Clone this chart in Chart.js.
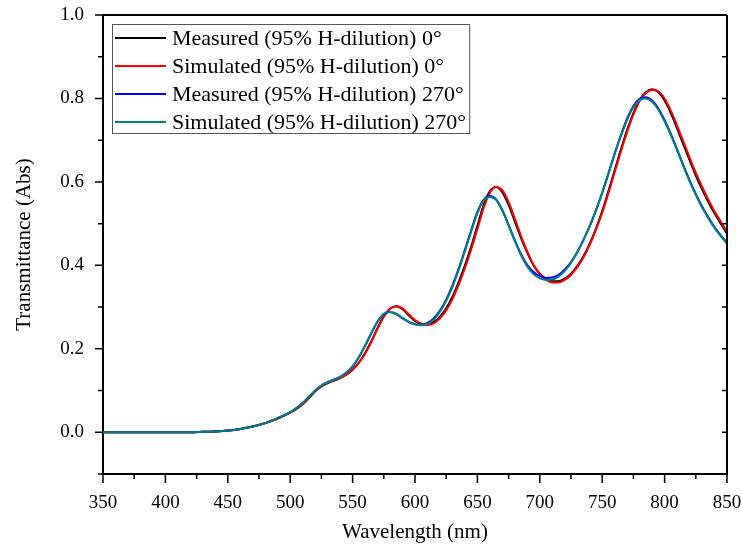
<!DOCTYPE html>
<html>
<head>
<meta charset="utf-8">
<script src="https://cdn.jsdelivr.net/npm/chart.js@4/dist/chart.umd.min.js"></script>
<style>
  html, body { margin: 0; padding: 0; background: #fff; }
  #wrap { width: 742px; height: 549px; }
</style>
</head>
<body>
<div id="wrap"><canvas id="chart" width="742" height="549"></canvas></div>
<script>
// wavelengths (nm)
const wavelengths = [350, 360, 370, 380, 390, 400, 410, 420, 430, 440, 450, 460, 470, 480, 490,
  500, 505, 510, 515, 520, 525, 530, 535, 540, 545, 550, 555, 560, 565, 570, 575, 580, 585, 590, 595,
  600, 605, 610, 615, 620, 625, 630, 635, 640, 645, 650, 655, 660, 665, 670, 675, 680, 685, 690, 695,
  700, 705, 710, 715, 720, 725, 730, 735, 740, 745, 750, 755, 760, 765, 770, 775, 780, 785, 790, 795,
  800, 805, 810, 815, 820, 825, 830, 835, 840, 845, 850];

const measured0 = [0, 0, 0, 0, 0, 0, 0, 0, 0.001, 0.002, 0.004, 0.008, 0.014, 0.022, 0.033,
  0.047, 0.056, 0.067, 0.082, 0.098, 0.110, 0.118, 0.124, 0.130, 0.138, 0.150, 0.167, 0.190, 0.218, 0.250, 0.278, 0.296, 0.302, 0.295, 0.280,
  0.267, 0.259, 0.258, 0.264, 0.277, 0.297, 0.325, 0.360, 0.400, 0.445, 0.495, 0.545, 0.578, 0.588, 0.575, 0.545, 0.505, 0.465, 0.430, 0.400,
  0.380, 0.368, 0.362, 0.362, 0.368, 0.380, 0.398, 0.422, 0.452, 0.488, 0.530, 0.578, 0.628, 0.678, 0.725, 0.765, 0.797, 0.815, 0.822, 0.815,
  0.795, 0.765, 0.728, 0.690, 0.652, 0.615, 0.582, 0.552, 0.525, 0.500, 0.476];

const simulated0 = [0, 0, 0, 0, 0, 0, 0, 0, 0.001, 0.002, 0.004, 0.008, 0.014, 0.022, 0.033,
  0.047, 0.056, 0.067, 0.082, 0.098, 0.110, 0.118, 0.124, 0.130, 0.138, 0.150, 0.166, 0.188, 0.216, 0.248, 0.277, 0.296, 0.302, 0.297, 0.283,
  0.269, 0.260, 0.257, 0.261, 0.273, 0.292, 0.319, 0.353, 0.393, 0.438, 0.487, 0.537, 0.574, 0.588, 0.580, 0.552, 0.512, 0.470, 0.433, 0.401,
  0.379, 0.365, 0.359, 0.359, 0.365, 0.377, 0.395, 0.419, 0.449, 0.485, 0.526, 0.573, 0.623, 0.673, 0.720, 0.761, 0.794, 0.813, 0.820, 0.817,
  0.800, 0.771, 0.735, 0.697, 0.659, 0.622, 0.589, 0.558, 0.530, 0.505, 0.481];

const measured270 = [0, 0, 0, 0, 0, 0, 0, 0, 0.001, 0.002, 0.004, 0.008, 0.014, 0.022, 0.034,
  0.048, 0.058, 0.070, 0.085, 0.100, 0.112, 0.120, 0.126, 0.133, 0.143, 0.158, 0.180, 0.207, 0.237, 0.265, 0.283, 0.288, 0.283, 0.273, 0.264,
  0.259, 0.258, 0.262, 0.273, 0.292, 0.318, 0.352, 0.392, 0.437, 0.484, 0.528, 0.557, 0.566, 0.558, 0.532, 0.497, 0.460, 0.427, 0.401, 0.384,
  0.374, 0.370, 0.371, 0.377, 0.390, 0.408, 0.432, 0.461, 0.494, 0.532, 0.574, 0.620, 0.668, 0.712, 0.752, 0.782, 0.799, 0.803, 0.795, 0.776,
  0.748, 0.715, 0.678, 0.640, 0.604, 0.571, 0.541, 0.515, 0.492, 0.472, 0.455];

const simulated270 = [0, 0, 0, 0, 0, 0, 0, 0, 0.001, 0.002, 0.004, 0.008, 0.014, 0.022, 0.034,
  0.048, 0.058, 0.070, 0.085, 0.100, 0.112, 0.120, 0.126, 0.133, 0.143, 0.158, 0.180, 0.208, 0.238, 0.266, 0.284, 0.288, 0.284, 0.274, 0.265,
  0.259, 0.257, 0.260, 0.270, 0.289, 0.315, 0.349, 0.389, 0.434, 0.481, 0.525, 0.555, 0.564, 0.557, 0.531, 0.496, 0.458, 0.424, 0.397, 0.379,
  0.369, 0.365, 0.366, 0.373, 0.387, 0.406, 0.431, 0.461, 0.494, 0.532, 0.574, 0.620, 0.667, 0.710, 0.749, 0.779, 0.796, 0.800, 0.792, 0.773,
  0.745, 0.712, 0.676, 0.638, 0.602, 0.569, 0.539, 0.513, 0.490, 0.470, 0.452];

const seriesLabels = [
  'Measured (95% H-dilution) 0°',
  'Simulated (95% H-dilution) 0°',
  'Measured (95% H-dilution) 270°',
  'Simulated (95% H-dilution) 270°'
];
const seriesColors = ['#000000', '#ff0000', '#0000ff', '#008080'];
const seriesValues = [measured0, simulated0, measured270, simulated270];

const serif = '"Liberation Serif", "Times New Roman", serif';

function toPoints(values) {
  return wavelengths.map((w, i) => ({ x: w, y: values[i] }));
}

// frame, minor/major tick marks and boxed legend
const framePlugin = {
  id: 'frame',
  afterDraw(chart) {
    const ctx = chart.ctx;
    const area = chart.chartArea;
    const xs = chart.scales.x;
    const ys = chart.scales.y;
    ctx.save();
    ctx.strokeStyle = '#000';
    ctx.lineWidth = 2;
    ctx.beginPath();
    ctx.moveTo(area.left, area.top);
    ctx.lineTo(area.right, area.top);
    ctx.moveTo(area.right, area.top);
    ctx.lineTo(area.right, area.bottom);
    ctx.stroke();

    ctx.lineWidth = 1.5;
    ctx.beginPath();
    xs.ticks.forEach(t => {
      const px = xs.getPixelForValue(t.value);
      const len = t.value % 50 === 0 ? 9 : 5;
      ctx.moveTo(px, area.bottom);
      ctx.lineTo(px, area.bottom + len);
    });
    ys.ticks.forEach(t => {
      const py = ys.getPixelForValue(t.value);
      const major = Math.round(t.value * 10) % 2 === 0;
      ctx.moveTo(area.left, py);
      ctx.lineTo(area.left - (major ? 8 : 5), py);
      if (t.value > ys.min && t.value < ys.max) {
        ctx.moveTo(area.right, py);
        ctx.lineTo(area.right - 5, py);
      }
    });
    ctx.stroke();

    // legend
    const lx = area.left + 9;
    const ly = area.top + 9;
    const rowH = 28;
    ctx.font = '22px ' + serif;
    let maxW = 0;
    chart.data.datasets.forEach(ds => { maxW = Math.max(maxW, ctx.measureText(ds.label).width); });
    const boxW = 60 + maxW + 3;
    const boxH = rowH * chart.data.datasets.length - 3;
    ctx.fillStyle = '#fff';
    ctx.fillRect(lx, ly, boxW, boxH);
    ctx.strokeStyle = '#555';
    ctx.lineWidth = 1;
    ctx.strokeRect(lx + 0.5, ly + 0.5, boxW, boxH);
    ctx.textBaseline = 'middle';
    chart.data.datasets.forEach((ds, i) => {
      const cy = ly + 14 + i * rowH;
      ctx.strokeStyle = ds.borderColor;
      ctx.lineWidth = 2;
      ctx.beginPath();
      ctx.moveTo(lx + 3, cy);
      ctx.lineTo(lx + 54, cy);
      ctx.stroke();
      ctx.fillStyle = '#000';
      ctx.fillText(ds.label, lx + 60, cy + 1);
    });
    ctx.restore();
  }
};

const ctx = document.getElementById('chart').getContext('2d');
new Chart(ctx, {
  type: 'line',
  data: {
    datasets: seriesLabels.map((label, i) => ({
      label: label,
      data: toPoints(seriesValues[i]),
      borderColor: seriesColors[i],
      backgroundColor: seriesColors[i],
      borderWidth: 2,
      pointRadius: 0,
      cubicInterpolationMode: 'monotone',
      order: seriesLabels.length - i
    }))
  },
  options: {
    responsive: false,
    animation: false,
    layout: { padding: { top: 15, right: 15, left: 0, bottom: 0 } },
    plugins: {
      legend: { display: false },
      tooltip: { enabled: false }
    },
    scales: {
      x: {
        type: 'linear',
        min: 350,
        max: 850,
        afterFit: s => { s.height = 75; s.paddingLeft = 0; s.paddingRight = 0; },
        grid: { display: false },
        border: { color: '#000', width: 2 },
        ticks: {
          stepSize: 25,
          autoSkip: false,
          maxRotation: 0,
          padding: 10,
          color: '#000',
          font: { family: serif, size: 19 },
          callback: v => (v % 50 === 0 ? String(v) : '')
        },
        title: {
          display: true,
          text: 'Wavelength (nm)',
          color: '#000',
          font: { family: serif, size: 21 },
          padding: { top: 6 }
        }
      },
      y: {
        min: -0.1,
        max: 1.0,
        afterFit: s => { s.width = 103; s.paddingTop = 0; s.paddingBottom = 0; },
        grid: { display: false },
        border: { color: '#000', width: 2 },
        ticks: {
          stepSize: 0.1,
          autoSkip: false,
          padding: 11,
          color: '#000',
          font: { family: serif, size: 19 },
          callback: v => {
            const n = Math.round(v * 10);
            return (n >= 0 && n % 2 === 0) ? (n / 10).toFixed(1) : '';
          }
        },
        title: {
          display: true,
          text: 'Transmittance (Abs)',
          color: '#000',
          font: { family: serif, size: 21 },
          padding: { top: 12, bottom: 4 }
        }
      }
    }
  },
  plugins: [framePlugin]
});
</script>
</body>
</html>
